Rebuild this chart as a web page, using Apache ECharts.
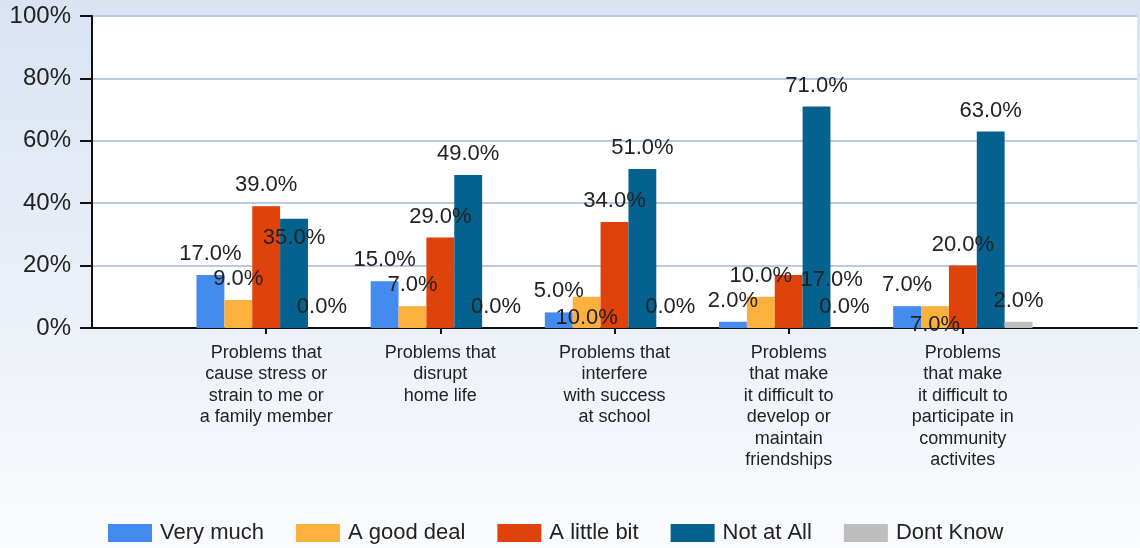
<!DOCTYPE html>
<html>
<head>
<meta charset="utf-8">
<title>Problems chart</title>
<script src="https://cdn.jsdelivr.net/npm/echarts@6/dist/echarts.min.js"></script>
<style>
  html, body { margin: 0; padding: 0; }
  #chart { width: 1140px; height: 548px; }
</style>
</head>
<body>
<div id="chart"></div>
<script>
// categories (empty slot on each side, like the original layout)
const categories = [
  "",
  "Problems that\ncause stress or\nstrain to me or\na family member",
  "Problems that\ndisrupt\nhome life",
  "Problems that\ninterfere\nwith success\nat school",
  "Problems\nthat make\nit difficult to\ndevelop or\nmaintain\nfriendships",
  "Problems\nthat make\nit difficult to\nparticipate in\ncommunity\nactivites",
  ""
];

const seriesNames = ["Very much", "A good deal", "A little bit", "Not at All", "Dont Know"];

const veryMuch = [17, 15, 5, 2, 7];
const goodDeal = [9, 7, 10, 10, 7];
const littleBit = [39, 29, 34, 17, 20];
const notAtAll = [35, 49, 51, 71, 63];
const dontKnow = [0, 0, 0, 0, 2];

const yTicks = [0, 20, 40, 60, 80, 100];

const colors = ["#448bef", "#fcb03e", "#e0420b", "#05618e", "#bebebe"];

// labels the original drew out of place (series index - category index)
const labelShift = {
  "3-0": [0, 40],
  "1-2": [0, 42],
  "2-3": [43, 26],
  "1-4": [0, 40]
};

const allValues = [veryMuch, goodDeal, littleBit, notAtAll, dontKnow];

const series = allValues.map((vals, si) => {
  const data = [null];
  vals.forEach((v, ci) => {
    const item = { value: v };
    const shift = labelShift[si + "-" + ci];
    if (shift) item.label = { offset: shift };
    data.push(item);
  });
  data.push(null);
  return {
    name: seriesNames[si],
    type: "bar",
    data: data,
    barGap: "0%",
    barCategoryGap: "20%",
    itemStyle: { color: colors[si] },
    label: {
      show: true,
      position: "top",
      distance: 10,
      fontSize: 22,
      fontFamily: "Liberation Sans, Arial, sans-serif",
      color: "#222",
      formatter: p => p.value.toFixed(1) + "%"
    }
  };
});

const chart = echarts.init(document.getElementById("chart"));

const option = {
  animation: false,
  backgroundColor: {
    type: "linear",
    x: 0, y: 0, x2: 0, y2: 1,
    colorStops: [
      { offset: 0, color: "#d9e3f2" },
      { offset: 1, color: "#fafbfd" }
    ]
  },
  color: colors,
  grid: {
    left: 92,
    right: 0,
    top: 16,
    bottom: 220,
    show: true,
    backgroundColor: "#ffffff",
    borderWidth: 0,
    containLabel: false
  },
  legend: {
    data: seriesNames,
    left: 108,
    top: 522,
    padding: 0,
    itemWidth: 44,
    itemHeight: 18,
    itemGap: 32,
    icon: "rect",
    textStyle: {
      fontSize: 22,
      fontFamily: "Liberation Sans, Arial, sans-serif",
      color: "#222",
      padding: [0, 0, 0, 3]
    }
  },
  xAxis: {
    type: "category",
    data: categories,
    boundaryGap: false,
    axisLine: { lineStyle: { color: "#111", width: 2 } },
    axisTick: {
      show: true,
      length: 6,
      interval: (i, v) => v !== "",
      lineStyle: { color: "#111", width: 2 }
    },
    axisLabel: {
      interval: 0,
      margin: 14,
      fontSize: 18,
      lineHeight: 21.5,
      fontFamily: "Liberation Sans, Arial, sans-serif",
      color: "#222",
      align: "center"
    },
    splitLine: { show: false }
  },
  yAxis: {
    type: "value",
    min: yTicks[0],
    max: yTicks[yTicks.length - 1],
    interval: 20,
    axisLine: { show: true, lineStyle: { color: "#111", width: 2 } },
    axisTick: {
      show: true,
      inside: false,
      length: 12,
      lineStyle: { color: "#111", width: 2 }
    },
    axisLabel: {
      margin: 21,
      fontSize: 24,
      fontFamily: "Liberation Sans, Arial, sans-serif",
      color: "#222",
      formatter: "{value}%"
    },
    splitLine: {
      show: true,
      lineStyle: { color: "#b9cbe4", width: 2 }
    }
  },
  series: series
};

chart.setOption(option);
</script>
</body>
</html>
